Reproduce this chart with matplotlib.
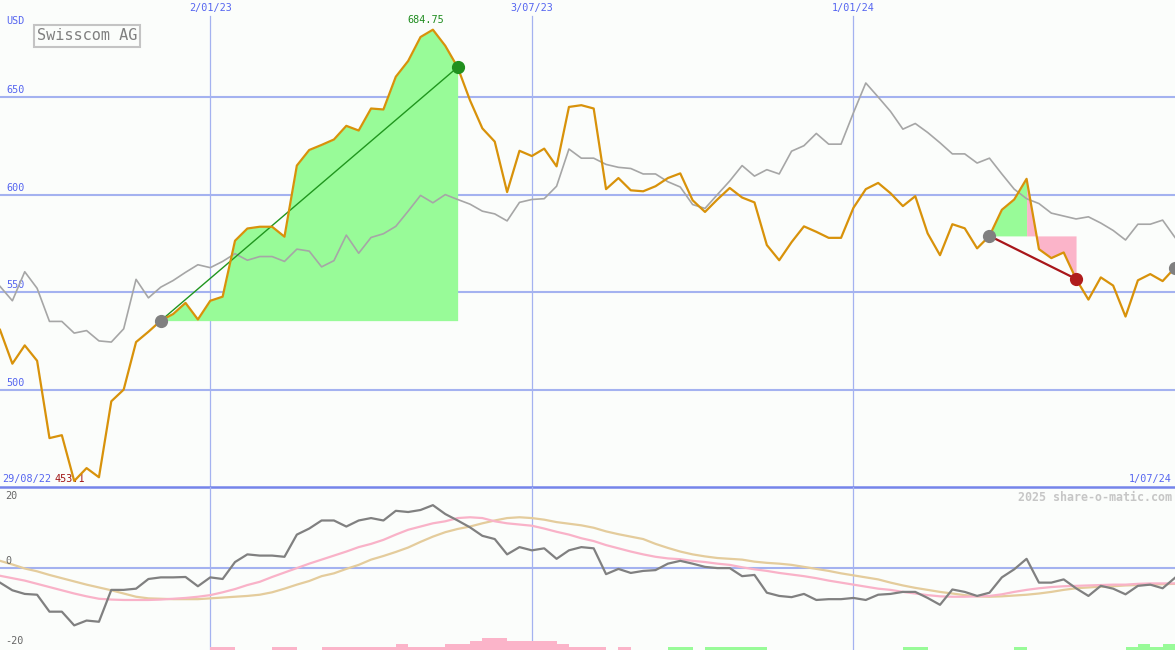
import numpy as np
import matplotlib.pyplot as plt

# weekly closes, Swisscom AG (USD), 29/08/22 .. 1/07/24
price = [530.7, 513.3, 522.7, 514.8, 475.1, 476.6, 453.1, 459.7, 455.0, 494.0,
         500.0, 524.4, 529.7, 535.4, 538.8, 544.5, 536.0, 545.6, 547.7, 576.4,
         582.7, 583.6, 583.6, 578.5, 615.0, 623.0, 625.6, 628.4, 635.4, 633.0,
         644.3, 643.8, 660.6, 668.7, 681.0, 684.75, 676.5, 665.5, 648.5, 634.1,
         627.3, 601.4, 622.6, 619.9, 623.7, 614.6, 645.1, 646.0, 644.3, 602.9,
         608.6, 602.3, 601.8, 604.4, 608.6, 611.0, 597.2, 591.2, 597.6, 603.5,
         598.6, 596.1, 574.2, 566.4, 575.7, 583.8, 581.0, 577.9, 577.9, 593.3,
         602.9, 606.1, 600.8, 594.2, 599.3, 580.2, 569.0, 584.9, 582.8, 572.5,
         578.9, 592.3, 597.6, 608.2, 572.1, 567.5, 570.4, 556.8, 546.2, 557.6,
         553.4, 537.5, 556.1, 559.3, 555.7, 562.6]

# comparison index, rescaled to the price
index = [553.0, 545.6, 560.5, 552.0, 535.0, 535.0, 529.0, 530.3, 525.0, 524.4,
         531.2, 556.6, 547.1, 552.6, 556.0, 560.2, 564.1, 562.6, 565.8, 569.8,
         566.4, 568.3, 568.3, 565.8, 572.1, 571.1, 563.0, 566.2, 579.3, 570.0,
         578.1, 580.0, 583.8, 591.6, 599.7, 595.9, 600.1, 597.6, 595.2, 591.6,
         590.2, 586.6, 596.1, 597.6, 598.0, 604.4, 623.5, 618.8, 618.8, 615.6,
         614.1, 613.5, 610.7, 610.7, 606.7, 604.0, 595.0, 593.0, 600.1, 607.1,
         615.0, 609.6, 612.9, 610.7, 622.4, 625.2, 631.5, 626.0, 626.0, 642.1,
         657.4, 650.2, 642.8, 633.7, 636.6, 632.0, 626.7, 621.0, 621.0, 616.3,
         618.8, 610.7, 602.9, 598.0, 595.5, 590.6, 589.1, 587.6, 588.7, 585.5,
         581.7, 576.8, 584.9, 584.9, 587.0, 578.1]

# lower panel: momentum and its two averages
momentum = [-3.7, -5.6, -6.5, -6.7, -10.9, -10.9, -14.3, -13.1, -13.4, -5.5,
            -5.5, -5.2, -2.8, -2.4, -2.4, -2.3, -4.6, -2.4, -2.8, 1.4,
            3.3, 3.0, 3.0, 2.7, 8.2, 9.7, 11.7, 11.7, 10.2, 11.7,
            12.3, 11.7, 14.1, 13.8, 14.3, 15.5, 13.3, 11.7, 10.0, 7.9,
            7.1, 3.3, 5.1, 4.3, 4.8, 2.2, 4.3, 5.1, 4.8, -1.6,
            -0.3, -1.3, -0.8, -0.6, 1.0, 1.7, 1.0, 0.2, -0.1, -0.1,
            -2.1, -1.8, -6.2, -7.0, -7.3, -6.5, -8.0, -7.8, -7.8, -7.5,
            -8.0, -6.7, -6.5, -6.0, -6.0, -7.5, -9.2, -5.4, -6.0, -7.0,
            -6.2, -2.4, -0.4, 2.2, -3.7, -3.7, -2.9, -5.1, -7.0, -4.5,
            -5.2, -6.6, -4.5, -4.2, -5.1, -2.5]

avg_fast = [-2.0, -2.6, -3.2, -4.0, -4.8, -5.6, -6.4, -7.1, -7.7, -7.9,
            -8.0, -8.0, -8.0, -7.9, -7.7, -7.5, -7.2, -6.8, -6.1, -5.3,
            -4.3, -3.5, -2.3, -1.2, -0.1, 1.0, 2.0, 3.0, 4.0, 5.1,
            5.9, 6.9, 8.2, 9.4, 10.2, 11.0, 11.5, 12.3, 12.5, 12.3,
            11.5, 11.0, 10.7, 10.4, 9.7, 8.9, 8.2, 7.3, 6.6, 5.6,
            4.8, 4.0, 3.3, 2.7, 2.3, 2.1, 1.7, 1.4, 1.0, 0.7,
            0.1, -0.4, -0.8, -1.3, -1.7, -2.1, -2.6, -3.2, -3.7, -4.2,
            -4.7, -5.2, -5.5, -6.0, -6.4, -6.8, -7.1, -7.2, -7.2, -7.1,
            -7.0, -6.6, -6.0, -5.5, -5.1, -4.8, -4.6, -4.5, -4.4, -4.3,
            -4.2, -4.2, -4.0, -3.9, -3.9, -3.9]

avg_slow = [1.7, 0.8, -0.2, -0.9, -1.8, -2.6, -3.4, -4.2, -4.9, -5.6,
            -6.4, -7.2, -7.6, -7.7, -7.8, -7.8, -7.8, -7.6, -7.4, -7.2,
            -7.0, -6.7, -6.1, -5.2, -4.2, -3.3, -2.1, -1.4, -0.3, 0.7,
            2.0, 2.9, 3.9, 5.0, 6.4, 7.7, 8.8, 9.6, 10.2, 11.0,
            11.7, 12.3, 12.5, 12.3, 11.9, 11.3, 10.9, 10.5, 9.9, 9.0,
            8.3, 7.7, 7.1, 5.9, 4.9, 4.0, 3.3, 2.8, 2.4, 2.2,
            2.0, 1.5, 1.2, 1.0, 0.7, 0.2, -0.3, -0.8, -1.4, -1.9,
            -2.4, -2.9, -3.7, -4.4, -5.0, -5.5, -6.0, -6.4, -6.8, -7.1,
            -7.2, -7.1, -6.9, -6.7, -6.4, -6.0, -5.5, -5.1, -4.9, -4.7,
            -4.6, -4.4, -4.3, -4.2, -4.1, -4.0]

# signal bars along the bottom (positive = pink, negative = green)
signal = [0, 0, 0, 0, 0, 0, 0, 0, 0, 0,
          0, 0, 0, 0, 0, 0, 0, 1, 1, 0,
          0, 0, 1, 1, 0, 0, 1, 1, 1, 1,
          1, 1, 2, 1, 1, 1, 2, 2, 3, 4,
          4, 3, 3, 3, 3, 2, 1, 1, 1, 0,
          1, 0, 0, 0, -1, -1, 0, -1, -1, -1,
          -1, -1, 0, 0, 0, 0, 0, 0, 0, 0,
          0, 0, 0, -1, -1, 0, 0, 0, 0, 0,
          0, 0, -1, 0, 0, 0, 0, 0, 0, 0,
          0, -1, -2, -1, -2, 0]

date_labels = ['2/01/23', '3/07/23', '1/01/24']
date_weeks = [17, 43, 69]
price_grid = [500, 550, 600, 650]
trades = [(13, 37), (80, 87)]   # entry week, exit week
open_trade = 95

BG = '#fbfdfb'
GRID = '#a4b2f0'
BLUE = '#5565f0'
MONO = 'DejaVu Sans Mono'

weeks = np.arange(len(price))
price = np.array(price)

fig = plt.figure(figsize=(11.75, 6.5), dpi=100)
fig.patch.set_facecolor(BG)
top_h = 487 / 650
ax = fig.add_axes([0, 1 - top_h, 1, top_h])
ax2 = fig.add_axes([0, 0, 1, 1 - top_h])
for a in (ax, ax2):
    a.set_axis_off()
    a.set_xlim(0, len(price) - 1)
ax.set_ylim(450, 700)
ax2.set_ylim(-20.4, 20)

# grid
for v in price_grid:
    ax.axhline(v, color=GRID, lw=1.5, zorder=1)
    ax.annotate(str(v), (0, v), xytext=(6, 2), textcoords='offset pixels',
                color=BLUE, fontsize=7.3, family=MONO, va='bottom')
for w, lab in zip(date_weeks, date_labels):
    ax.axvline(w, ymax=1 - 16 / 487, color=GRID, lw=0.9, zorder=1)
    ax2.axvline(w, color=GRID, lw=0.9, zorder=1)
    ax.annotate(lab, (w, 700), xytext=(0, -3), textcoords='offset pixels',
                color=BLUE, fontsize=7.3, family=MONO, ha='center', va='top')
ax.axhline(450, color='#7584ea', lw=1.8, clip_on=False, zorder=5)
ax2.axhline(0, color=GRID, lw=1.5, zorder=1)

# trades
for start, end in trades:
    base = price[start]
    seg = slice(start, end + 1)
    if price[end] >= base:
        ax.fill_between(weeks[seg], price[seg], base, where=price[seg] >= base,
                        interpolate=True, color='#98fb98', lw=0, zorder=2)
        ax.plot([start, end], [base, price[end]], color='#20961e', lw=1, zorder=4)
        ax.plot(end, price[end], 'o', ms=8.5, color='#20901e', zorder=6)
    else:
        top = start + int(np.argmax(price[seg]))
        up = slice(start, top + 1)
        down = slice(top, end + 1)
        ax.fill_between(weeks[up], price[up], base, where=price[up] >= base,
                        interpolate=True, color='#98fb98', lw=0, zorder=2)
        ax.fill_between(weeks[down], price[down], base, color='#fbb4c9', lw=0, zorder=2)
        ax.plot([start, end], [base, price[end]], color='#a8161a', lw=1.6, zorder=4)
        ax.plot(end, price[end], 'o', ms=8.5, color='#b01c1c', zorder=6)
    ax.plot(start, base, 'o', ms=8.5, color='#808080', zorder=6)
ax.plot(open_trade, price[open_trade], 'o', ms=8.5, color='#808080', zorder=6, clip_on=False)

ax.plot(weeks, index, color='#a6a6a6', lw=1.2, zorder=3)
ax.plot(weeks, price, color='#d8920a', lw=1.6, zorder=4)

# labels in the price panel
ax.annotate('USD', (0, 700), xytext=(6, -16), textcoords='offset pixels',
            color=BLUE, fontsize=7.3, family=MONO, va='top')
ax.annotate('Swisscom AG', (0, 1), xycoords='axes fraction', xytext=(37, -36),
            textcoords='offset pixels', color='#808080', fontsize=11, family=MONO,
            va='center', ha='left',
            bbox=dict(boxstyle='square,pad=0.2', fc=BG, ec='#c4c4c4', lw=1.5))
hi = int(np.argmax(price))
lo = int(np.argmin(price))
ax.annotate(f'{price[hi]:.2f}', (hi, price[hi]), xytext=(-7, 5), textcoords='offset pixels',
            color='#1e8c1e', fontsize=7.3, family=MONO, ha='center', va='bottom')
ax.annotate(f'{price[lo]:.1f}', (lo, 450), xytext=(-4, 3), textcoords='offset pixels',
            color='#a01414', fontsize=7.3, family=MONO, ha='center', va='bottom')
ax.annotate('29/08/22', (0, 450), xytext=(2, 3), textcoords='offset pixels',
            color=BLUE, fontsize=7.3, family=MONO, ha='left', va='bottom')
ax.annotate('1/07/24', (len(price) - 1, 450), xytext=(-3, 3), textcoords='offset pixels',
            color=BLUE, fontsize=7.3, family=MONO, ha='right', va='bottom')

# lower panel
sig = np.array(signal)
bar_col = np.where(sig > 0, '#fbb4c9', '#98fb98')
ax2.bar(weeks, np.abs(sig) * 0.75, bottom=-20.4, width=1.0, align='edge',
        color=bar_col, lw=0, zorder=2)
ax2.plot(weeks, avg_slow, color='#e4cc9c', lw=1.6, zorder=3)
ax2.plot(weeks, avg_fast, color='#f9b2c8', lw=1.6, zorder=3)
ax2.plot(weeks, momentum, color='#808080', lw=1.6, zorder=4)

for v, dy, va in [(20, -4, 'top'), (0, 2, 'bottom'), (-20, 2, 'bottom')]:
    ax2.annotate(str(v), (0, v), xytext=(5, dy), textcoords='offset pixels',
                 color='#666666', fontsize=7.3, family=MONO, va=va)
ax2.annotate('2025 share-o-matic.com', (1, 1), xycoords='axes fraction', xytext=(-3, -4),
             textcoords='offset pixels', color='#c6c6c6', fontsize=8.4, family=MONO,
             fontweight='bold', ha='right', va='top')

fig.savefig('out.png', dpi=100, facecolor=BG)
